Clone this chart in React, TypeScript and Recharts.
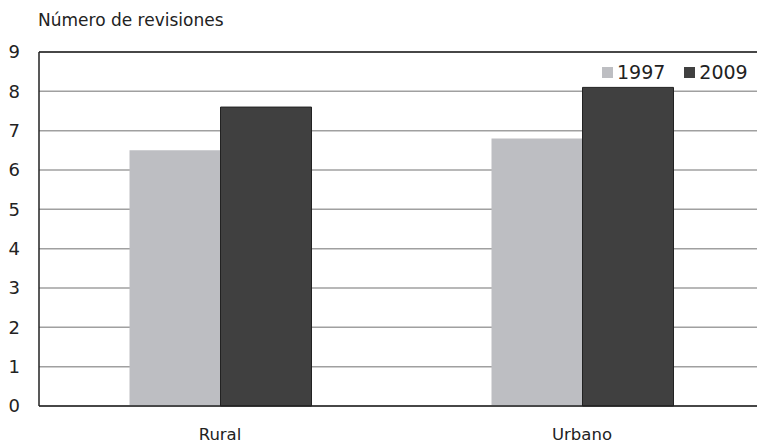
import React from "react";
import { BarChart, Bar, XAxis, YAxis, CartesianGrid, ReferenceLine } from "recharts";

const categories = ["Rural", "Urbano"];
const values1997 = [6.5, 6.8];
const values2009 = [7.6, 8.1];
const yTicks = [0, 1, 2, 3, 4, 5, 6, 7, 8, 9];
const seriesNames = ["1997", "2009"];
const seriesColors = ["#bdbec2", "#404040"];

const data = categories.map((c, i) => ({ name: c, y1997: values1997[i], y2009: values2009[i] }));

const FONT = "'DejaVu Sans', 'Open Sans', sans-serif";

export default function App() {
  return (
    <div style={{ position: "absolute", left: 0, top: 0, width: 757, height: 443, overflow: "hidden", background: "#fff" }}>
      <div style={{ position: "absolute", left: 38, top: 9, fontFamily: FONT, fontSize: 17, color: "#222", lineHeight: "22px" }}>
        Número de revisiones
      </div>
      <div
        style={{
          position: "absolute",
          left: 602,
          top: 59,
          display: "flex",
          alignItems: "center",
          fontFamily: FONT,
          fontSize: 19,
          color: "#222",
          zIndex: 2,
          lineHeight: "26px",
        }}
      >
        {seriesNames.map((n, i) => (
          <div key={n} style={{ display: "flex", alignItems: "center", marginLeft: i ? 19 : 0 }}>
            <div style={{ width: 11, height: 11, background: seriesColors[i], marginRight: 4 }} />
            <span>{n}</span>
          </div>
        ))}
      </div>
      <BarChart
        width={763}
        height={443}
        data={data}
        margin={{ top: 52, right: 0, bottom: 0, left: 0 }}
        barGap={0}
        barCategoryGap="25%"
      >
        <CartesianGrid horizontal vertical={false} stroke="#a0a0a0" strokeWidth={1.5} />
        <XAxis
          dataKey="name"
          height={37}
          tickLine={false}
          tickSize={0}
          tickMargin={22}
          axisLine={{ stroke: "#222", strokeWidth: 1.5 }}
          tick={{ fill: "#222", fontSize: 16.5, fontFamily: FONT }}
        />
        <YAxis
          width={39}
          domain={[0, 9]}
          ticks={yTicks}
          interval={0}
          tickLine={false}
          tickSize={0}
          tickMargin={19}
          axisLine={{ stroke: "#222", strokeWidth: 1.5 }}
          tick={{ fill: "#222", fontSize: 18, fontFamily: FONT }}
        />
        <ReferenceLine y={9} stroke="#222" strokeWidth={1.5} />
        <Bar dataKey="y1997" name={seriesNames[0]} fill={seriesColors[0]} isAnimationActive={false} />
        <Bar dataKey="y2009" name={seriesNames[1]} fill={seriesColors[1]} stroke="#222" strokeWidth={1} isAnimationActive={false} />
      </BarChart>
    </div>
  );
}
